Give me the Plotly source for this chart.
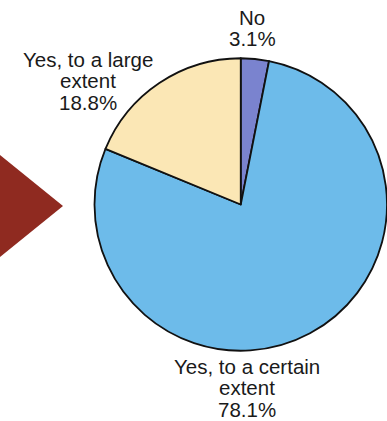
import plotly.graph_objects as go

categories = ["No", "Yes, to a certain extent", "Yes, to a large extent"]
values = [3.1, 78.1, 18.8]
colors = ["#7A83CF", "#6DBBEA", "#FBE7B5"]

# label lines (text) with their pixel anchor centers
label_lines = [
    (["No", "3.1%"], 252, [17, 39]),
    (["Yes, to a certain", "extent", "78.1%"], 247, [366, 387.5, 409]),
    (["Yes, to a large", "extent", "18.8%"], 88, [59, 80.5, 102]),
]

W, H = 387, 421
cx, cy, r = 241, 204.5, 146.5

fig = go.Figure(go.Pie(
    labels=categories,
    values=values,
    sort=False,
    direction="clockwise",
    rotation=0,
    textinfo="none",
    hoverinfo="label+percent",
    marker=dict(colors=colors, line=dict(color="#111111", width=1.8)),
    domain=dict(x=[(cx - r) / W, min(1, (cx + r) / W)],
                y=[1 - (cy + r) / H, 1 - (cy - r) / H]),
    showlegend=False,
))

annotations = []
for lines, px, pys in label_lines:
    for txt, py in zip(lines, pys):
        annotations.append(dict(
            text=txt, x=px / W, y=1 - py / H, xref="paper", yref="paper",
            xanchor="center", yanchor="middle", showarrow=False,
            font=dict(family="Liberation Sans, Arial, sans-serif", size=20.5, color="#1a1a1a"),
        ))

fig.update_layout(
    width=W, height=H,
    margin=dict(l=0, r=0, t=0, b=0),
    paper_bgcolor="white",
    plot_bgcolor="white",
    annotations=annotations,
    shapes=[dict(
        type="path", xref="paper", yref="paper",
        path=f"M 0 {1-155/H} L {63/W} {1-206/H} L 0 {1-257/H} Z",
        fillcolor="#8F2A20", line=dict(width=0),
    )],
)

fig.write_html(
    "out.html",
    config={"displayModeBar": False},
    post_script="document.body.style.margin='0';document.body.style.overflow='hidden';",
)
